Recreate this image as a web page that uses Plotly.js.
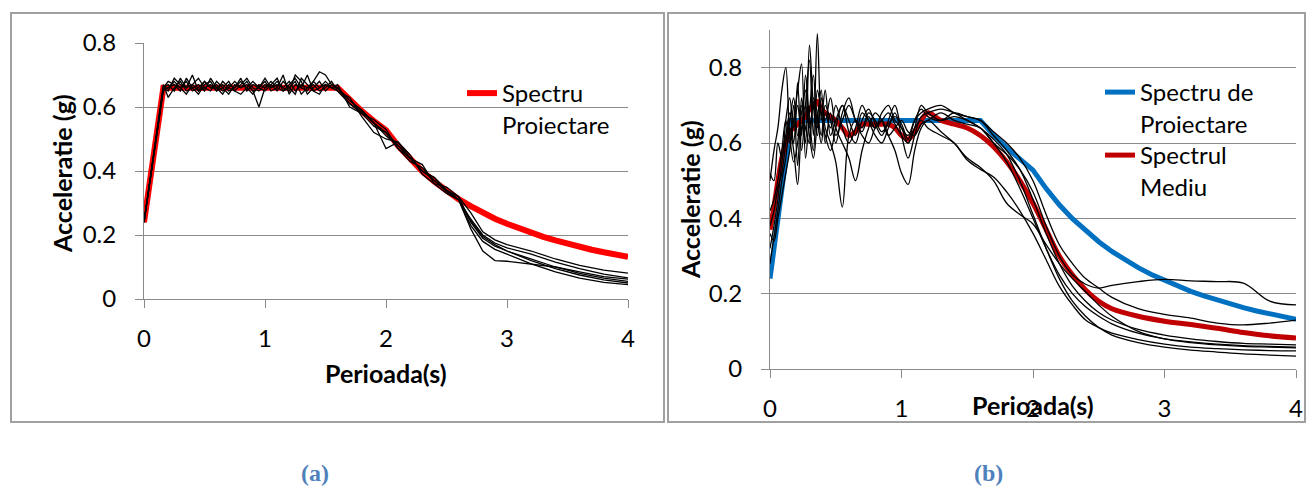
<!DOCTYPE html>
<html><head><meta charset="utf-8">
<script src="https://cdn.plot.ly/plotly-3.0.1.min.js"></script>
<style>html,body{margin:0;padding:0;background:#fff}#chart{width:1307px;height:487px}</style>
</head><body><div id="chart"></div>
<script>
// ---------- DATA ----------
const xTickVals = [0, 1, 2, 3, 4];
const xTickLabels = ['0', '1', '2', '3', '4'];
const yTickVals = [0, 0.2, 0.4, 0.6, 0.8];
const yTickLabels = ['0', '0.2', '0.4', '0.6', '0.8'];

// design spectrum (Spectru Proiectare)
const periodDesign = [0, 0.16, 1.6, 1.7, 1.8, 1.9, 2.0, 2.1, 2.2, 2.3, 2.4, 2.5, 2.6, 2.7, 2.8, 2.9, 3.0, 3.1, 3.2, 3.3, 3.4, 3.5, 3.6, 3.7, 3.8, 3.9, 4.0];
const spectrumDesign = [0.24, 0.66, 0.66, 0.621, 0.587, 0.556, 0.528, 0.479, 0.436, 0.399, 0.367, 0.338, 0.312, 0.290, 0.269, 0.251, 0.235, 0.220, 0.206, 0.194, 0.183, 0.172, 0.163, 0.154, 0.146, 0.139, 0.132];

// panel (a): records
const periodA = [0, 0.16, 0.2, 0.25, 0.3, 0.35, 0.4, 0.45, 0.5, 0.55,
  0.6, 0.65, 0.7, 0.75, 0.8, 0.85, 0.9, 0.95, 1.0, 1.05,
  1.1, 1.15, 1.2, 1.25, 1.3, 1.35, 1.4, 1.45, 1.5, 1.55,
  1.6, 1.7, 1.8, 1.9, 2.0, 2.1, 2.2, 2.3, 2.4, 2.5,
  2.6, 2.7, 2.8, 2.9, 3.0, 3.2, 3.4, 3.6, 3.8, 4.0];
const recA1 = [0.24, 0.66, 0.67, 0.65, 0.69, 0.66, 0.67, 0.65, 0.68, 0.66,
  0.67, 0.65, 0.66, 0.68, 0.66, 0.67, 0.65, 0.66, 0.69, 0.66,
  0.67, 0.66, 0.68, 0.65, 0.67, 0.66, 0.68, 0.71, 0.70, 0.67,
  0.66, 0.62, 0.59, 0.55, 0.51, 0.48, 0.44, 0.40, 0.38, 0.34,
  0.32, 0.27, 0.21, 0.185, 0.17, 0.15, 0.125, 0.105, 0.09, 0.081];
const recA2 = [0.24, 0.65, 0.66, 0.68, 0.66, 0.64, 0.67, 0.69, 0.66, 0.65,
  0.68, 0.66, 0.64, 0.67, 0.66, 0.68, 0.65, 0.60, 0.66, 0.67,
  0.65, 0.68, 0.66, 0.64, 0.69, 0.67, 0.65, 0.66, 0.68, 0.66,
  0.67, 0.60, 0.58, 0.54, 0.52, 0.47, 0.43, 0.41, 0.37, 0.34,
  0.31, 0.25, 0.20, 0.175, 0.16, 0.14, 0.115, 0.095, 0.078, 0.066];
const recA3 = [0.24, 0.67, 0.63, 0.66, 0.68, 0.65, 0.66, 0.64, 0.67, 0.68,
  0.65, 0.66, 0.68, 0.65, 0.64, 0.66, 0.68, 0.66, 0.65, 0.67,
  0.69, 0.65, 0.66, 0.68, 0.64, 0.66, 0.67, 0.65, 0.66, 0.68,
  0.65, 0.63, 0.57, 0.52, 0.50, 0.49, 0.45, 0.39, 0.36, 0.33,
  0.31, 0.22, 0.15, 0.12, 0.118, 0.11, 0.10, 0.085, 0.07, 0.062];
const recA4 = [0.24, 0.66, 0.68, 0.67, 0.65, 0.69, 0.66, 0.67, 0.65, 0.69,
  0.66, 0.64, 0.67, 0.66, 0.69, 0.65, 0.67, 0.66, 0.68, 0.65,
  0.66, 0.70, 0.64, 0.67, 0.66, 0.70, 0.65, 0.64, 0.67, 0.66,
  0.66, 0.61, 0.58, 0.56, 0.53, 0.47, 0.44, 0.42, 0.36, 0.35,
  0.32, 0.24, 0.19, 0.165, 0.15, 0.125, 0.10, 0.08, 0.065, 0.055];
const recA5 = [0.24, 0.66, 0.65, 0.69, 0.67, 0.66, 0.70, 0.65, 0.66, 0.67,
  0.65, 0.68, 0.66, 0.65, 0.67, 0.69, 0.66, 0.65, 0.67, 0.66,
  0.68, 0.66, 0.65, 0.70, 0.68, 0.64, 0.66, 0.68, 0.65, 0.67,
  0.66, 0.62, 0.59, 0.55, 0.47, 0.49, 0.44, 0.40, 0.38, 0.34,
  0.31, 0.245, 0.195, 0.17, 0.15, 0.12, 0.095, 0.075, 0.06, 0.05];
const recA6 = [0.24, 0.66, 0.66, 0.67, 0.66, 0.68, 0.65, 0.66, 0.68, 0.66,
  0.66, 0.67, 0.65, 0.66, 0.68, 0.66, 0.64, 0.67, 0.66, 0.68,
  0.66, 0.65, 0.67, 0.69, 0.66, 0.65, 0.68, 0.66, 0.67, 0.66,
  0.65, 0.61, 0.585, 0.55, 0.52, 0.48, 0.44, 0.40, 0.37, 0.335,
  0.31, 0.23, 0.18, 0.155, 0.14, 0.11, 0.085, 0.065, 0.052, 0.045];

// panel (b): records and mean spectrum
const periodB = [0, 0.03, 0.06, 0.09, 0.12, 0.15, 0.18, 0.21, 0.24, 0.27,
  0.3, 0.33, 0.36, 0.39, 0.42, 0.46, 0.5, 0.55, 0.6, 0.65,
  0.7, 0.75, 0.8, 0.85, 0.9, 0.95, 1.0, 1.05, 1.1, 1.15,
  1.2, 1.3, 1.4, 1.5, 1.6, 1.7, 1.8, 1.9, 2.0, 2.1,
  2.2, 2.3, 2.4, 2.5, 2.6, 2.8, 3.0, 3.2, 3.4, 3.6,
  3.8, 4.0];
const meanB = [0.37, 0.43, 0.50, 0.56, 0.60, 0.63, 0.64, 0.65, 0.66, 0.67,
  0.69, 0.70, 0.71, 0.69, 0.68, 0.67, 0.66, 0.64, 0.62, 0.63,
  0.65, 0.65, 0.65, 0.65, 0.65, 0.64, 0.62, 0.61, 0.63, 0.66,
  0.68, 0.66, 0.65, 0.64, 0.62, 0.59, 0.55, 0.50, 0.44, 0.37,
  0.30, 0.25, 0.21, 0.18, 0.16, 0.14, 0.127, 0.118, 0.108, 0.097,
  0.088, 0.082];
const recB1 = [0.50, 0.58, 0.64, 0.74, 0.80, 0.62, 0.55, 0.60, 0.70, 0.64,
  0.60, 0.72, 0.68, 0.62, 0.70, 0.66, 0.60, 0.68, 0.72, 0.66,
  0.63, 0.67, 0.64, 0.66, 0.68, 0.65, 0.62, 0.60, 0.64, 0.70,
  0.68, 0.66, 0.67, 0.66, 0.64, 0.60, 0.57, 0.53, 0.47, 0.38,
  0.30, 0.25, 0.225, 0.215, 0.222, 0.232, 0.238, 0.234, 0.232, 0.228,
  0.18, 0.17];
const recB2 = [0.32, 0.38, 0.45, 0.55, 0.62, 0.68, 0.60, 0.76, 0.58, 0.70,
  0.82, 0.62, 0.89, 0.66, 0.74, 0.62, 0.66, 0.70, 0.63, 0.60,
  0.66, 0.69, 0.65, 0.62, 0.66, 0.70, 0.64, 0.62, 0.66, 0.68,
  0.69, 0.70, 0.68, 0.67, 0.66, 0.63, 0.60, 0.56, 0.50, 0.41,
  0.33, 0.28, 0.24, 0.215, 0.19, 0.16, 0.145, 0.135, 0.122, 0.117,
  0.122, 0.13];
const recB3 = [0.42, 0.45, 0.50, 0.58, 0.66, 0.60, 0.70, 0.54, 0.72, 0.60,
  0.86, 0.70, 0.62, 0.72, 0.64, 0.60, 0.55, 0.43, 0.62, 0.66,
  0.64, 0.68, 0.66, 0.63, 0.65, 0.67, 0.65, 0.61, 0.66, 0.69,
  0.67, 0.66, 0.68, 0.67, 0.66, 0.62, 0.58, 0.53, 0.45, 0.36,
  0.28, 0.22, 0.18, 0.15, 0.13, 0.105, 0.09, 0.08, 0.073, 0.068,
  0.066, 0.064];
const recB4 = [0.36, 0.34, 0.40, 0.46, 0.52, 0.58, 0.66, 0.74, 0.81, 0.56,
  0.68, 0.78, 0.64, 0.70, 0.66, 0.72, 0.64, 0.60, 0.56, 0.50,
  0.58, 0.64, 0.68, 0.66, 0.62, 0.64, 0.66, 0.63, 0.62, 0.65,
  0.66, 0.68, 0.66, 0.65, 0.64, 0.60, 0.55, 0.48, 0.40, 0.32,
  0.25, 0.20, 0.165, 0.14, 0.12, 0.095, 0.08, 0.072, 0.066, 0.062,
  0.06, 0.058];
const recB5 = [0.28, 0.35, 0.42, 0.50, 0.56, 0.64, 0.58, 0.49, 0.64, 0.70,
  0.62, 0.56, 0.66, 0.74, 0.60, 0.68, 0.62, 0.66, 0.70, 0.66,
  0.62, 0.60, 0.64, 0.66, 0.62, 0.58, 0.52, 0.49, 0.58, 0.64,
  0.66, 0.63, 0.60, 0.56, 0.535, 0.50, 0.44, 0.41, 0.385, 0.33,
  0.28, 0.24, 0.205, 0.17, 0.14, 0.10, 0.08, 0.07, 0.064, 0.06,
  0.058, 0.056];
const recB6 = [0.52, 0.50, 0.60, 0.56, 0.66, 0.72, 0.64, 0.70, 0.62, 0.78,
  0.66, 0.58, 0.74, 0.68, 0.62, 0.58, 0.64, 0.70, 0.66, 0.62,
  0.68, 0.66, 0.64, 0.68, 0.70, 0.66, 0.64, 0.60, 0.64, 0.66,
  0.64, 0.62, 0.60, 0.555, 0.53, 0.51, 0.47, 0.42, 0.36, 0.29,
  0.22, 0.17, 0.13, 0.11, 0.095, 0.078, 0.066, 0.058, 0.054, 0.051,
  0.049, 0.048];
const recB7 = [0.38, 0.42, 0.48, 0.52, 0.60, 0.66, 0.72, 0.62, 0.68, 0.74,
  0.64, 0.70, 0.66, 0.60, 0.68, 0.64, 0.70, 0.64, 0.60, 0.64,
  0.70, 0.66, 0.62, 0.60, 0.64, 0.68, 0.62, 0.56, 0.62, 0.67,
  0.68, 0.69, 0.68, 0.66, 0.64, 0.61, 0.57, 0.50, 0.41, 0.32,
  0.24, 0.18, 0.14, 0.11, 0.09, 0.07, 0.058, 0.05, 0.045, 0.04,
  0.037, 0.034];

// ---------- CHART ----------
const W = 1307, H = 487;
const px = v => v / W;
const py = v => 1 - v / H;
const FONT = 'Lato, "Open Sans", sans-serif';
const GRAY = '#8a8a8a';

const traces = [];
traces.push({x: periodDesign, y: spectrumDesign, xaxis: 'x', yaxis: 'y', mode: 'lines',
  name: 'Spectru<br>Proiectare', legend: 'legend', line: {color: '#ff0000', width: 6}});
[recA1, recA2, recA3, recA4, recA5, recA6].forEach(r => traces.push({
  x: periodA, y: r, xaxis: 'x', yaxis: 'y', mode: 'lines', showlegend: false, hoverinfo: 'skip',
  line: {color: '#000', width: 1.3}}));

traces.push({x: periodDesign, y: spectrumDesign, xaxis: 'x2', yaxis: 'y2', mode: 'lines',
  name: 'Spectru de<br>Proiectare', legend: 'legend2', line: {color: '#0070c0', width: 5}});
traces.push({x: periodB, y: meanB, xaxis: 'x2', yaxis: 'y2', mode: 'lines',
  name: 'Spectrul<br>Mediu', legend: 'legend3', line: {color: '#c00000', width: 5, shape: 'spline'}});
[recB1, recB2, recB3, recB4, recB5, recB6, recB7].forEach(r => traces.push({
  x: periodB, y: r, xaxis: 'x2', yaxis: 'y2', mode: 'lines', showlegend: false, hoverinfo: 'skip',
  line: {color: '#000', width: 1.3, shape: 'spline'}}));

const axBase = {
  showline: true, linecolor: GRAY, linewidth: 1, ticks: 'outside', ticklen: 8, tickcolor: GRAY, tickwidth: 1,
  zeroline: false, fixedrange: true, tickfont: {family: FONT, size: 24, color: '#000'}
};
const xAx = Object.assign({}, axBase, {range: [0, 4], tickvals: xTickVals, ticktext: xTickLabels, showgrid: false, ticklabelstandoff: 10});
const yAx = Object.assign({}, axBase, {tickvals: yTickVals, ticktext: yTickLabels, showgrid: true, gridcolor: GRAY, gridwidth: 1, ticklabelstandoff: 14});

const legBase = {font: {family: FONT, size: 24, color: '#000'}, bgcolor: 'rgba(0,0,0,0)', borderwidth: 0,
  xanchor: 'left', yanchor: 'top', valign: 'top', tracegroupgap: 0};

const titleFont = {family: FONT, size: 25, color: '#000', weight: 'bold'};
const capFont = {family: '"Liberation Serif", "DejaVu Serif", serif', size: 24, color: '#4f81bd', weight: 'bold'};

const layout = {
  width: W, height: H, margin: {l: 0, r: 0, t: 0, b: 0},
  paper_bgcolor: '#fff', plot_bgcolor: 'rgba(0,0,0,0)',
  font: {family: FONT, color: '#000'},
  xaxis: Object.assign({}, xAx, {domain: [px(144), px(628)], anchor: 'y'}),
  yaxis: Object.assign({}, yAx, {domain: [py(299), py(43)], range: [0, 0.8], anchor: 'x'}),
  xaxis2: Object.assign({}, xAx, {domain: [px(770), px(1296)], anchor: 'y2'}),
  yaxis2: Object.assign({}, yAx, {domain: [py(369), py(30)], range: [0, 0.9], anchor: 'x2'}),
  legend: Object.assign({}, legBase, {x: px(462), y: py(71)}),
  legend2: Object.assign({}, legBase, {x: px(1100), y: py(70)}),
  legend3: Object.assign({}, legBase, {x: px(1100), y: py(133)}),
  shapes: [
    {type: 'rect', xref: 'paper', yref: 'paper', x0: px(11), x1: px(664), y0: py(422), y1: py(13), line: {color: '#a0a0a0', width: 2}},
    {type: 'rect', xref: 'paper', yref: 'paper', x0: px(668), x1: px(1305), y0: py(422), y1: py(13), line: {color: '#a0a0a0', width: 2}}
  ],
  annotations: [
    {text: 'Perioada(s)', xref: 'paper', yref: 'paper', x: px(386), y: py(373), showarrow: false, xanchor: 'center', yanchor: 'middle', font: titleFont},
    {text: 'Acceleratie (g)', xref: 'paper', yref: 'paper', x: px(62), y: py(173), showarrow: false, textangle: -90, xanchor: 'center', yanchor: 'middle', font: titleFont},
    {text: 'Perioada(s)', xref: 'paper', yref: 'paper', x: px(1033), y: py(405), showarrow: false, xanchor: 'center', yanchor: 'middle', font: titleFont},
    {text: 'Acceleratie (g)', xref: 'paper', yref: 'paper', x: px(690), y: py(200), showarrow: false, textangle: -90, xanchor: 'center', yanchor: 'middle', font: titleFont},
    {text: '(a)', xref: 'paper', yref: 'paper', x: px(315), y: py(473), showarrow: false, xanchor: 'center', yanchor: 'middle', font: capFont},
    {text: '(b)', xref: 'paper', yref: 'paper', x: px(988), y: py(473), showarrow: false, xanchor: 'center', yanchor: 'middle', font: capFont}
  ]
};

Plotly.newPlot('chart', traces, layout, {staticPlot: true, displayModeBar: false});
</script></body></html>
